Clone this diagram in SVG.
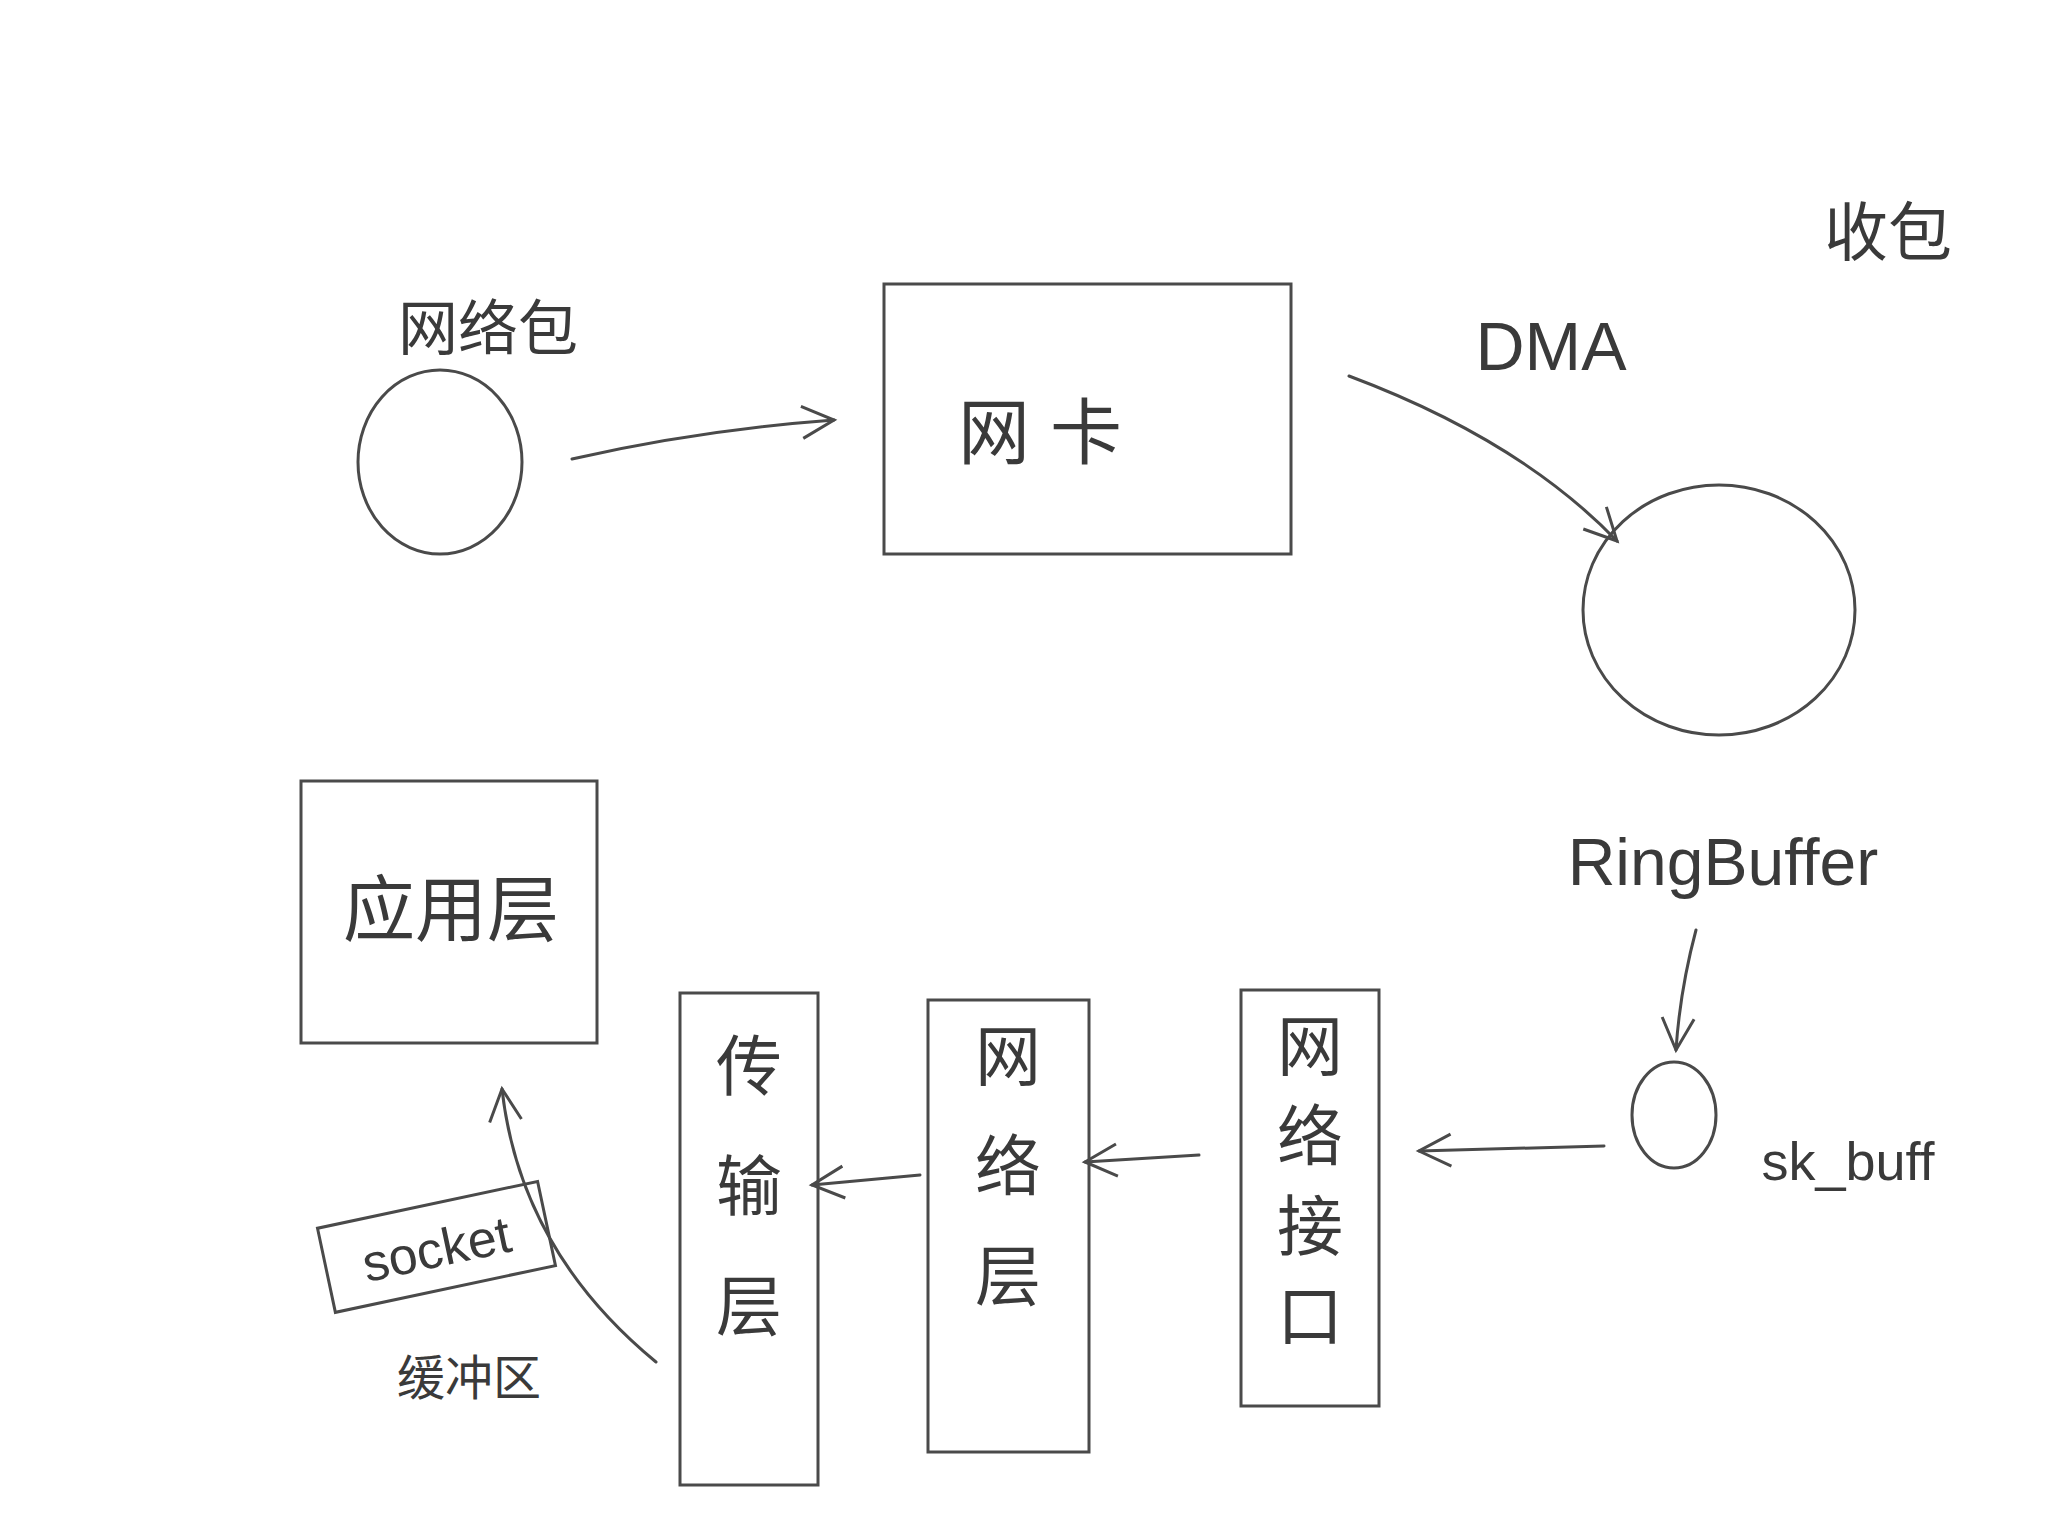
<svg xmlns="http://www.w3.org/2000/svg" width="2048" height="1536" viewBox="0 0 2048 1536">
<style>
.s{fill:none;stroke:#4a4a4a;stroke-width:3;stroke-linecap:round}
.t{font-family:"Liberation Sans","Noto Sans CJK SC",sans-serif;fill:#3a3a3a}
</style>
<defs>
<marker id="a" viewBox="0 0 20 20" refX="18" refY="10" markerWidth="40" markerHeight="40" markerUnits="userSpaceOnUse" orient="auto">
<path d="M2,2 L18,10 L2,18" fill="none" stroke="#4a4a4a" stroke-width="1.5"/>
</marker>
</defs>
<rect width="2048" height="1536" fill="#fff"/>
<text class="t" x="1888" y="255" font-size="64" text-anchor="middle">收包</text>
<text class="t" x="1551" y="370" font-size="68" text-anchor="middle">DMA</text>
<g id="packet"><ellipse class="s" cx="440" cy="462" rx="82" ry="92"/><text class="t" x="488" y="350" font-size="60" text-anchor="middle">网络包</text></g>
<g id="nic"><rect class="s" x="884" y="284" width="407" height="270"/><text class="t" x="1040" y="458" font-size="72" text-anchor="middle">网 卡</text></g>
<g id="ringbuffer"><ellipse class="s" cx="1719" cy="610" rx="136" ry="125"/><text class="t" x="1723" y="885" font-size="66" text-anchor="middle">RingBuffer</text></g>
<g id="skbuff"><ellipse class="s" cx="1674" cy="1115" rx="42" ry="53"/><text class="t" x="1848" y="1180" font-size="54" text-anchor="middle">sk_buff</text></g>
<g id="netif"><rect class="s" x="1241" y="990" width="138" height="416"/><text class="t" x="1310" y="1070" font-size="66" text-anchor="middle"><tspan x="1310" dy="0">网</tspan><tspan x="1310" dy="90">络</tspan><tspan x="1310" dy="90">接</tspan><tspan x="1310" dy="90">口</tspan></text></g>
<g id="netlayer"><rect class="s" x="928" y="1000" width="161" height="452"/><text class="t" x="1008" y="1080" font-size="66" text-anchor="middle"><tspan x="1008" dy="0">网</tspan><tspan x="1008" dy="110">络</tspan><tspan x="1008" dy="110">层</tspan></text></g>
<g id="transport"><rect class="s" x="680" y="993" width="138" height="492"/><text class="t" x="749" y="1090" font-size="66" text-anchor="middle"><tspan x="749" dy="0">传</tspan><tspan x="749" dy="120">输</tspan><tspan x="749" dy="120">层</tspan></text></g>
<g id="app"><rect class="s" x="301" y="781" width="296" height="262"/><text class="t" x="451" y="935" font-size="72" text-anchor="middle">应用层</text></g>
<g id="socket"><g transform="rotate(-12 436 1247)"><rect class="s" x="324" y="1204" width="225" height="86"/><text class="t" x="436" y="1267" font-size="52" text-anchor="middle">socket</text></g><text class="t" x="469" y="1395" font-size="48" text-anchor="middle">缓冲区</text></g>
<g id="connectors">
<path class="s" d="M572,459 Q700,430 834,420" marker-end="url(#a)"/>
<path class="s" d="M1349,376 Q1520,440 1617,541" marker-end="url(#a)"/>
<path class="s" d="M1696,930 Q1680,990 1676,1050" marker-end="url(#a)"/>
<path class="s" d="M1604,1146 L1419,1151" marker-end="url(#a)"/>
<path class="s" d="M1199,1155 L1085,1162" marker-end="url(#a)"/>
<path class="s" d="M920,1175 L812,1185" marker-end="url(#a)"/>
<path class="s" d="M656,1362 Q520,1250 502,1089" marker-end="url(#a)"/>
</g>
</svg>
